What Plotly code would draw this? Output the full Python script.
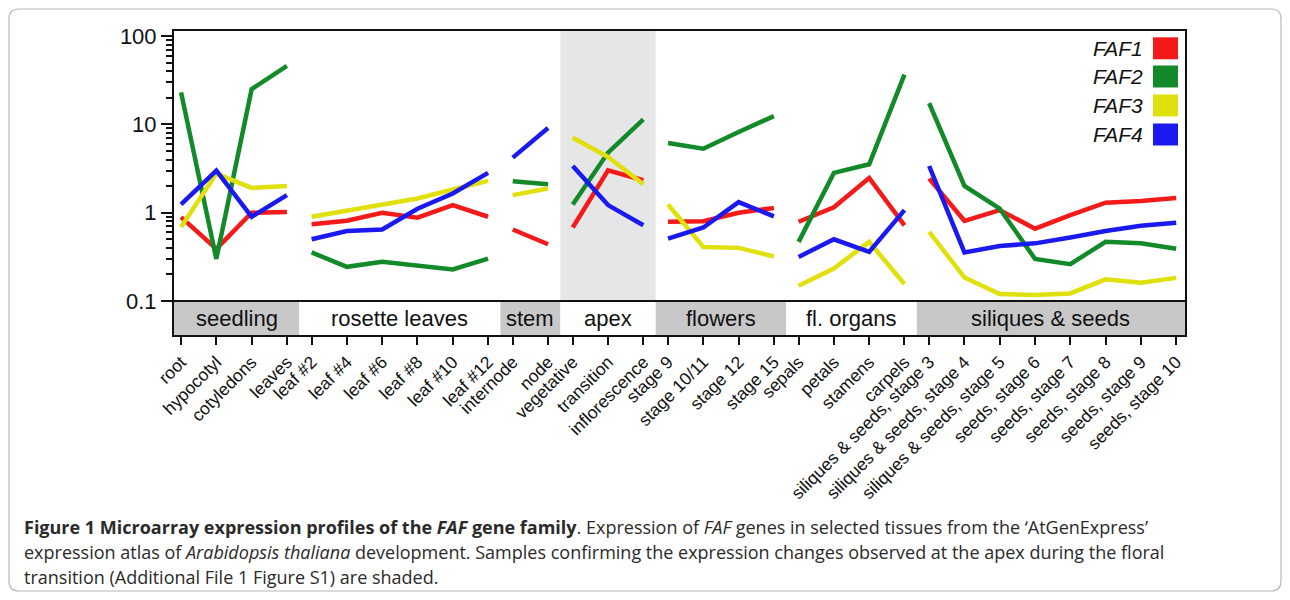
import plotly.graph_objects as go

# ---------------- data ----------------
groups = ["seedling", "rosette leaves", "stem", "apex", "flowers", "fl. organs", "siliques & seeds"]
group_sizes = [4, 6, 2, 3, 4, 4, 8]
categories = [
    "root", "hypocotyl", "cotyledons", "leaves",
    "leaf #2", "leaf #4", "leaf #6", "leaf #8", "leaf #10", "leaf #12",
    "internode", "node",
    "vegetative", "transition", "inflorescence",
    "stage 9", "stage 10/11", "stage 12", "stage 15",
    "sepals", "petals", "stamens", "carpels",
    "siliques & seeds, stage 3", "siliques & seeds, stage 4", "siliques & seeds, stage 5",
    "seeds, stage 6", "seeds, stage 7", "seeds, stage 8", "seeds, stage 9", "seeds, stage 10",
]
highlighted_group = "apex"

faf1 = [0.89, 0.39, 1.00, 1.02,
        0.74, 0.81, 1.00, 0.88, 1.22, 0.90,
        0.645, 0.44,
        0.68, 3.02, 2.33,
        0.79, 0.80, 1.00, 1.13,
        0.79, 1.15, 2.47, 0.72,
        2.43, 0.81, 1.07, 0.66, 0.94, 1.30, 1.36, 1.47]
faf2 = [23.0, 0.30, 25.0, 46.0,
        0.355, 0.244, 0.278, 0.25, 0.228, 0.303,
        2.27, 2.10,
        1.24, 4.79, 11.4,
        6.15, 5.3, 8.2, 12.4,
        0.468, 2.82, 3.53, 36.5,
        17.4, 2.01, 1.11, 0.30, 0.262, 0.468, 0.45, 0.39]
faf3 = [0.69, 2.77, 1.91, 2.01,
        0.90, 1.05, 1.24, 1.45, 1.83, 2.29,
        1.58, 1.88,
        7.07, 4.27, 2.10,
        1.24, 0.41, 0.40, 0.32,
        0.149, 0.234, 0.468, 0.156,
        0.607, 0.185, 0.12, 0.117, 0.122, 0.176, 0.161, 0.183]
faf4 = [1.24, 3.0, 0.90, 1.58,
        0.50, 0.62, 0.645, 1.11, 1.65, 2.82,
        4.2, 9.1,
        3.38, 1.22, 0.72,
        0.51, 0.68, 1.32, 0.91,
        0.316, 0.50, 0.36, 1.07,
        3.38, 0.355, 0.42, 0.45, 0.525, 0.62, 0.71, 0.77]

series_names = ["FAF1", "FAF2", "FAF3", "FAF4"]
series_values = [faf1, faf2, faf3, faf4]
series_colors = ["#f41a1a", "#138a2a", "#e0e00c", "#1a1af0"]

y_tick_vals = [0.1, 1, 10, 100]
y_tick_text = ["0.1", "1", "10", "100"]

caption_lines = [
    "<b>Figure 1 Microarray expression profiles of the <i>FAF</i> gene family</b>. Expression of <i>FAF</i> genes in selected tissues from the \u2018AtGenExpress\u2019",
    "expression atlas of <i>Arabidopsis thaliana</i> development. Samples confirming the expression changes observed at the apex during the floral",
    "transition (Additional File 1 Figure S1) are shaded.",
]

# ---------------- layout geometry (screen pixels; page body has an 8px margin) ----------------
OFF = 8
W, H = 1290 - 2 * OFF, 600 - 2 * OFF
PLOT_L, PLOT_R, PLOT_T, PLOT_B = 174, 1185, 31, 335   # screen pixels
ML, MR = PLOT_L - OFF, W - (PLOT_R - OFF)
MT, MB = PLOT_T - OFF, H - (PLOT_B - OFF)
PW, PH = PLOT_R - PLOT_L, PLOT_B - PLOT_T
GAP = 0.7          # step between groups (within a group the step is 1)
BAND_DEC = 0.384   # category band height in decades
Y_TOP_PAD = 0.0565

def pxx(x):
    return (x - PLOT_L) / PW

def pxy(y):
    return (PLOT_B - y) / PH

# x positions of categories
xpos = []
group_of = []
cur = 0.0
for gi, n in enumerate(group_sizes):
    for k in range(n):
        if xpos:
            cur += 1.0 if k > 0 else GAP
        xpos.append(cur)
        group_of.append(gi)

x_min = xpos[0] - 0.2
x_max = xpos[-1] + 0.25
y_lo = -1 - BAND_DEC
y_hi = 2 + Y_TOP_PAD
band_frac = (-1 - y_lo) / (y_hi - y_lo)

# group boundaries
starts, ends = [], []
idx = 0
for gi, n in enumerate(group_sizes):
    first, last = idx, idx + n - 1
    left = x_min if gi == 0 else (xpos[first - 1] + xpos[first]) / 2
    right = x_max if gi == len(group_sizes) - 1 else (xpos[last] + xpos[last + 1]) / 2
    starts.append(left)
    ends.append(right)
    idx += n

fig = go.Figure()

for name, vals, col in zip(series_names, series_values, series_colors):
    xs, ys = [], []
    prev_g = None
    for x, v, g in zip(xpos, vals, group_of):
        if prev_g is not None and g != prev_g:
            xs.append(None)
            ys.append(None)
        xs.append(x)
        ys.append(v)
        prev_g = g
    fig.add_trace(go.Scatter(x=xs, y=ys, mode="lines", name=name,
                             line=dict(color=col, width=4.5),
                             connectgaps=False, showlegend=False, hoverinfo="skip"))

shapes = []
annotations = []

# shaded apex column
hg = groups.index(highlighted_group)
shapes.append(dict(type="rect", xref="x", yref="paper", x0=starts[hg], x1=ends[hg],
                   y0=band_frac, y1=1, fillcolor="#e6e6e6", line=dict(width=0), layer="below"))

# category band
for gi, g in enumerate(groups):
    shapes.append(dict(type="rect", xref="x", yref="paper", x0=starts[gi], x1=ends[gi],
                       y0=0, y1=band_frac,
                       fillcolor="#c8c8c8" if gi % 2 == 0 else "#ffffff",
                       line=dict(width=0), layer="below"))
    annotations.append(dict(text=g, xref="x", yref="paper", x=(starts[gi] + ends[gi]) / 2,
                            y=band_frac / 2, showarrow=False, xanchor="center", yanchor="middle",
                            font=dict(family="Liberation Sans, Arial", size=22, color="#111")))

shapes.append(dict(type="line", xref="paper", yref="paper", x0=0, x1=1, y0=band_frac, y1=band_frac,
                   line=dict(color="#111", width=2), layer="above"))

# legend (text right, colour square)
leg_centers = [48.3, 76.5, 105.5, 134.5]
for name, col, cy in zip(series_names, series_colors, leg_centers):
    shapes.append(dict(type="rect", xref="paper", yref="paper",
                       x0=pxx(1153), x1=pxx(1178), y0=pxy(cy + 11), y1=pxy(cy - 11),
                       fillcolor=col, line=dict(width=0)))
    annotations.append(dict(text="<i>%s</i>" % name, xref="paper", yref="paper",
                            x=pxx(1145), y=pxy(cy), xanchor="right", yanchor="middle",
                            showarrow=False,
                            font=dict(family="Liberation Sans, Arial", size=21, color="#111")))

# caption
cap_y = [527, 552, 577]
for line, cy in zip(caption_lines, cap_y):
    annotations.append(dict(text=line, xref="paper", yref="paper", x=pxx(22), y=pxy(cy),
                            xanchor="left", yanchor="middle", showarrow=False, align="left",
                            font=dict(family="Open Sans, Arial", size=18, color="#2a2a2a")))

# outer rounded border
x0b, x1b, y0b, y1b, r = 9, 1281, 9, 591, 10
path = ("M {a},{b} L {c},{b} Q {d},{b} {d},{e} L {d},{f} Q {d},{g} {c},{g} "
        "L {a},{g} Q {h},{g} {h},{f} L {h},{e} Q {h},{b} {a},{b} Z").format(
    a=pxx(x0b + r), b=pxy(y0b), c=pxx(x1b - r), d=pxx(x1b), e=pxy(y0b + r),
    f=pxy(y1b - r), g=pxy(y1b), h=pxx(x0b))
shapes.append(dict(type="path", xref="paper", yref="paper", path=path,
                   line=dict(color="#b8b8b8", width=1.2), fillcolor="rgba(0,0,0,0)"))

fig.update_layout(
    width=W, height=H,
    margin=dict(l=ML, r=MR, t=MT, b=MB, pad=0),
    paper_bgcolor="white", plot_bgcolor="rgba(0,0,0,0)",
    shapes=shapes, annotations=annotations,
    showlegend=False,
    xaxis=dict(range=[x_min, x_max], tickmode="array", tickvals=xpos, ticktext=categories,
               tickangle=-45, ticks="outside", ticklen=8, tickwidth=2, tickcolor="#111",
               showline=True, linecolor="#111", linewidth=2, mirror=True,
               showgrid=False, zeroline=False,
               tickfont=dict(family="Liberation Sans, Arial", size=17.5, color="#111")),
    yaxis=dict(type="log", range=[y_lo, y_hi], tickmode="array", tickvals=y_tick_vals,
               ticktext=y_tick_text, ticks="outside", ticklen=11, tickwidth=2, tickcolor="#111",
               showline=True, linecolor="#111", linewidth=2, mirror=True,
               showgrid=False, zeroline=False,
               minor=dict(tickmode="array",
                          tickvals=[m * d for d in (0.1, 1, 10) for m in range(2, 10)],
                          ticks="outside", ticklen=6, tickwidth=1.5, tickcolor="#111",
                          showgrid=False),
               tickfont=dict(family="Liberation Sans, Arial", size=22, color="#111")),
)

fig.write_html("out.html")
